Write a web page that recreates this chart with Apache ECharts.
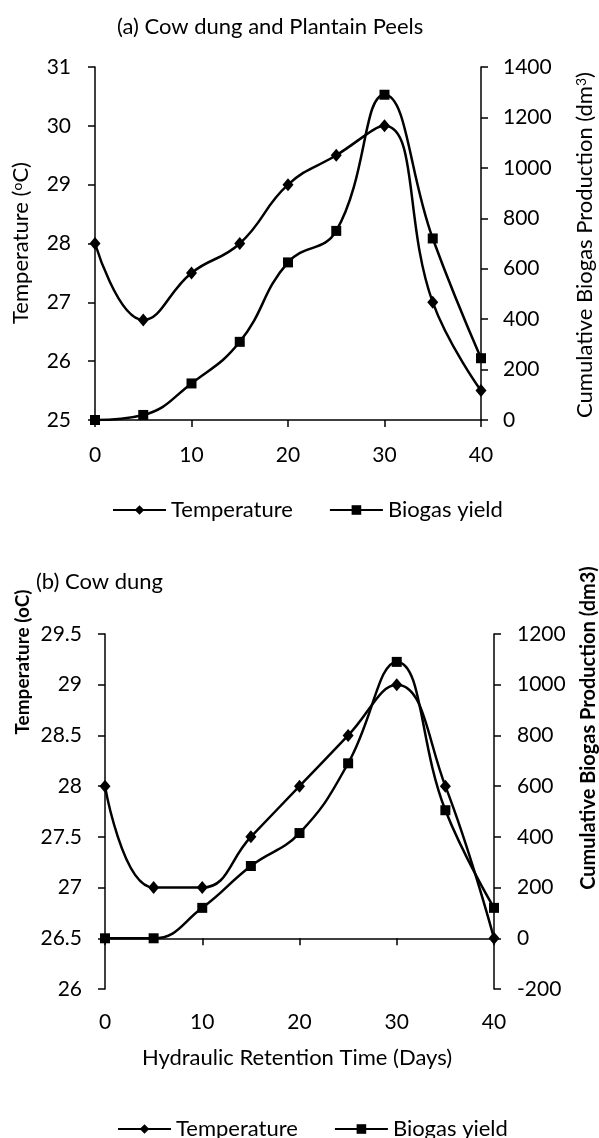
<!DOCTYPE html>
<html>
<head>
<meta charset="utf-8">
<script src="https://cdn.jsdelivr.net/npm/echarts@6/dist/echarts.min.js"></script>
<style>
html,body{margin:0;padding:0;background:#fff;}
#chart{width:599px;height:1138px;}
</style>
</head>
<body>
<div id="chart"></div>
<script>
// ---- data ----
var days = [0, 5, 10, 15, 20, 25, 30, 35, 40];
var tempA = [28, 26.7, 27.5, 28, 29, 29.5, 30, 27, 25.5];
var biogasA = [0, 20, 145, 310, 625, 750, 1290, 720, 245];
var tempB = [28, 27, 27, 27.5, 28, 28.5, 29, 28, 26.5];
var biogasB = [0, 0, 120, 285, 415, 690, 1090, 505, 120];
var seriesNames = ['Temperature', 'Biogas yield'];
var titleA = '(a) Cow dung and Plantain Peels';
var titleB = '(b) Cow dung';
var xNameB = 'Hydraulic Retention Time (Days)';

function pairs(xs, ys) { return xs.map(function (x, i) { return [x, ys[i]]; }); }

var FONT = 'Lato';
var black = '#000';
var TICK_FS = 21;
var TEXT_FS = 22;
var axisLine = { show: true, lineStyle: { color: black, width: 1.5 } };
var axisTick = { show: true, inside: false, length: 7, lineStyle: { color: black, width: 1.5 } };
function lbl(margin) {
  return { color: black, fontFamily: FONT, fontSize: TICK_FS, margin: margin,
    formatter: function (v) { return String(v); } };
}

function xAx(gi, margin) {
  return { type: 'value', gridIndex: gi, min: 0, max: 40, interval: 10,
    axisLine: axisLine, axisTick: axisTick, splitLine: { show: false },
    axisLabel: lbl(margin) };
}
function yAx(gi, pos, min, max, interval, margin) {
  return { type: 'value', gridIndex: gi, position: pos, min: min, max: max, interval: interval,
    axisLine: axisLine, axisTick: axisTick, splitLine: { show: false },
    axisLabel: lbl(margin) };
}
function ser(name, xi, yi, data, symbol, size) {
  return { name: name, type: 'line', xAxisIndex: xi, yAxisIndex: yi, data: data,
    smooth: 0.45, symbol: symbol, symbolSize: size, showSymbol: true,
    lineStyle: { color: black, width: 2.5 }, itemStyle: { color: black },
    emphasis: { disabled: true }, animation: false };
}

var chart = echarts.init(document.getElementById('chart'), null, { renderer: 'canvas' });
var sup = { s: { fontSize: 14, verticalAlign: 'top', fontFamily: FONT } };
var legendText = { fontFamily: FONT, fontSize: TEXT_FS, color: black };
var option = {
  backgroundColor: '#fff',
  animation: false,
  title: [
    { text: titleA, left: 112, top: 11, textStyle: { fontFamily: FONT, fontSize: TEXT_FS, fontWeight: 'normal', color: black } },
    { text: titleB, left: 31, top: 566, textStyle: { fontFamily: FONT, fontSize: TEXT_FS, fontWeight: 'normal', color: black } }
  ],
  grid: [
    { left: 95, top: 67, width: 386, height: 353 },
    { left: 105, top: 634, width: 389, height: 355 }
  ],
  xAxis: [xAx(0, 25), xAx(1, 23)],
  yAxis: [
    yAx(0, 'left', 25, 31, 1, 24),
    yAx(0, 'right', 0, 1400, 200, 22),
    yAx(1, 'left', 26, 29.5, 0.5, 23),
    yAx(1, 'right', -200, 1200, 200, 23)
  ],
  legend: [
    { data: seriesNames, left: 107, top: 494, itemWidth: 53, itemHeight: 12, itemGap: 36,
      textStyle: legendText, selectedMode: false },
    { data: seriesNames, left: 112, top: 1113, itemWidth: 53, itemHeight: 12, itemGap: 36,
      textStyle: legendText, selectedMode: false }
  ],
  series: [
    ser(seriesNames[0], 0, 0, pairs(days, tempA), 'diamond', [11, 13]),
    ser(seriesNames[1], 0, 1, pairs(days, biogasA), 'rect', 10),
    ser(seriesNames[0], 1, 2, pairs(days, tempB), 'diamond', [11, 13]),
    ser(seriesNames[1], 1, 3, pairs(days, biogasB), 'rect', 10)
  ],
  graphic: [
    { type: 'text', x: 21, y: 243, rotation: Math.PI / 2,
      style: { text: 'Temperature ({s|o}C)', fontFamily: FONT, fontSize: TEXT_FS, fill: black, align: 'center', verticalAlign: 'middle', rich: sup } },
    { type: 'text', x: 585, y: 245, rotation: Math.PI / 2,
      style: { text: 'Cumulative Biogas Production (dm{s|3})', fontFamily: FONT, fontSize: TEXT_FS, fill: black, align: 'center', verticalAlign: 'middle', rich: sup } },
    { type: 'text', x: 23, y: 662, rotation: Math.PI / 2,
      style: { text: 'Temperature (oC)', fontFamily: FONT, fontSize: 19, fontWeight: 'bold', fill: black, align: 'center', verticalAlign: 'middle' } },
    { type: 'text', x: 589, y: 728, rotation: Math.PI / 2,
      style: { text: 'Cumulative Biogas Production (dm3)', fontFamily: FONT, fontSize: 20, fontWeight: 'bold', fill: black, align: 'center', verticalAlign: 'middle' } },
    { type: 'text', x: 297, y: 1058,
      style: { text: xNameB, fontFamily: FONT, fontSize: TEXT_FS, fill: black, align: 'center', verticalAlign: 'middle' } }
  ]
};
chart.setOption(option);
</script>
</body>
</html>
